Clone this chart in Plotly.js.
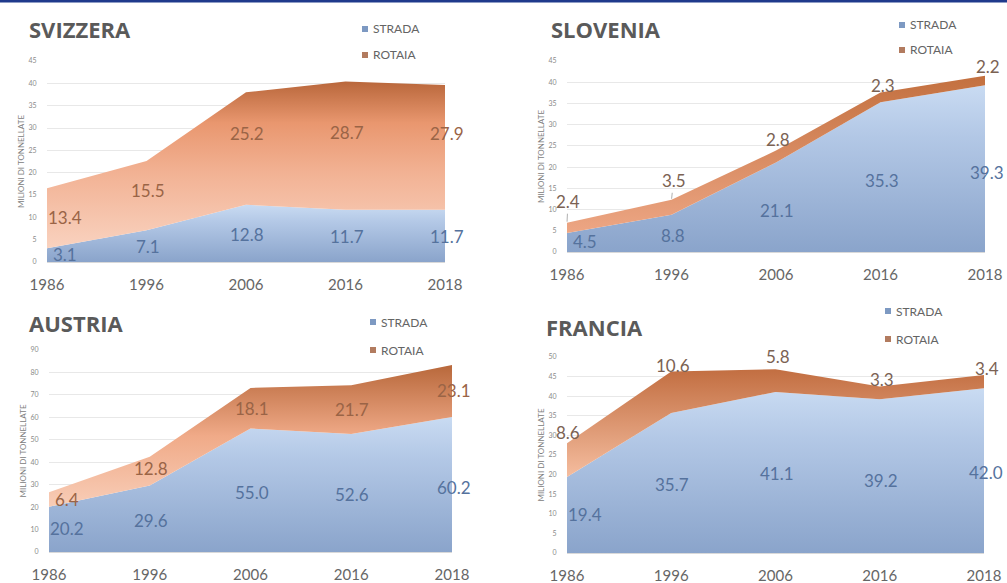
<!DOCTYPE html>
<html>
<head>
<meta charset="utf-8">
<script src="https://cdn.plot.ly/plotly-3.0.1.min.js"></script>
<style>html,body{margin:0;padding:0;background:#fff;}#chart{width:1007px;height:583px;}</style>
</head>
<body>
<div id="chart"></div>
<script>
// ---------------- DATA ----------------
const years = ['1986', '1996', '2006', '2016', '2018'];
const seriesNames = ['STRADA', 'ROTAIA'];
const countryNames = ['SVIZZERA', 'SLOVENIA', 'AUSTRIA', 'FRANCIA'];
const yAxisTitle = 'MILIONI DI TONNELLATE';

const svizzeraStrada = [3.1, 7.1, 12.8, 11.7, 11.7];
const svizzeraRotaia = [13.4, 15.5, 25.2, 28.7, 27.9];
const sloveniaStrada = [4.5, 8.8, 21.1, 35.3, 39.3];
const sloveniaRotaia = [2.4, 3.5, 2.8, 2.3, 2.2];
const austriaStrada = [20.2, 29.6, 55.0, 52.6, 60.2];
const austriaRotaia = [6.4, 12.8, 18.1, 21.7, 23.1];
const franciaStrada = [19.4, 35.7, 41.1, 39.2, 42.0];
const franciaRotaia = [8.6, 10.6, 5.8, 3.3, 3.4];

const yMax = [45, 45, 90, 50];
const yStep = [5, 5, 10, 5];

// ---------------- LAYOUT / STYLE ----------------
const W = 1007, H = 583;
const panels = [
  { strada: svizzeraStrada, rotaia: svizzeraRotaia,
    px: [47, 445], py: [61, 262], title: [27, 29], legend: [362, 29, 55],
    rotMode: 'mid', sShift: [1, 0, -1, -1, -1], rShift: [1, 5, 15, 13, 14],
    rotScale: [[0, '#f9d2bf'], [0.45, '#f2b294'], [0.75, '#e9976f'], [1, '#b9673b']] },
  { strada: sloveniaStrada, rotaia: sloveniaRotaia,
    px: [567, 985], py: [61, 252], title: [549, 29], legend: [899, 25, 50],
    rotMode: 'above', sShift: [1, -2, -3, -3, -4], rShift: [21, 19, 11, 7, 9],
    rotScale: [[0, '#eda684'], [1, '#c3703f']] },
  { strada: austriaStrada, rotaia: austriaRotaia,
    px: [49, 452], py: [350, 552], title: [27, 323], legend: [370, 322, 350],
    rotMode: 'mid', sShift: [1, -2, -2, -2, -3], rShift: [0, 3, 0, 0, 0],
    rotScale: [[0, '#f8cdb7'], [0.5, '#f0aa88'], [1, '#b8683b']] },
  { strada: franciaStrada, rotaia: franciaRotaia,
    px: [567, 984], py: [357, 553], title: [544, 327], legend: [885, 311, 339],
    rotMode: 'above', sShift: [0, -1, -1, -4, -2], rShift: [11, 6, 13, 7, 7],
    rotScale: [[0, '#f5bd9f'], [1, '#c26e41']] }
];

const stradaScale = [[0, '#8aa4cb'], [0.7, '#b3c8e6'], [1, '#c9dbf2']];
const labelFont = 'Lato, "Open Sans", sans-serif';
const stradaLabelColor = '#55729d';
const rotaiaInColor = '#9a6446';
const rotaiaOutColor = '#7b6253';

const traces = [];
const annotations = [];
const shapes = [];
const layout = {
  width: W, height: H,
  margin: { l: 0, r: 0, t: 0, b: 0 },
  paper_bgcolor: '#ffffff',
  plot_bgcolor: 'rgba(0,0,0,0)',
  showlegend: false,
  hovermode: false,
  font: { family: labelFont, color: '#595959' }
};

panels.forEach((p, i) => {
  const n = i + 1;
  const xa = 'x' + (n === 1 ? '' : n);
  const ya = 'y' + (n === 1 ? '' : n);
  const xKey = 'xaxis' + (n === 1 ? '' : n);
  const yKey = 'yaxis' + (n === 1 ? '' : n);
  const totals = p.strada.map((v, k) => v + p.rotaia[k]);

  traces.push({
    type: 'scatter', x: years, y: p.strada, name: seriesNames[0],
    xaxis: xa, yaxis: ya, stackgroup: 'g' + n, mode: 'none',
    fillgradient: { type: 'vertical', start: 0, stop: Math.max(...p.strada), colorscale: stradaScale },
    hoverinfo: 'skip'
  });
  traces.push({
    type: 'scatter', x: years, y: p.rotaia, name: seriesNames[1],
    xaxis: xa, yaxis: ya, stackgroup: 'g' + n, mode: 'none',
    fillgradient: { type: 'vertical', start: Math.min(...p.strada), stop: Math.max(...totals), colorscale: p.rotScale },
    hoverinfo: 'skip'
  });

  layout[xKey] = {
    domain: [p.px[0] / W, p.px[1] / W],
    anchor: ya, type: 'category', range: [0, years.length - 1],
    showgrid: false, zeroline: false,
    showline: true, linecolor: '#d9d9d9', linewidth: 1,
    ticks: 'outside', ticklen: 9, tickcolor: 'rgba(0,0,0,0)',
    tickfont: { family: labelFont, size: 15, color: '#666666' },
    fixedrange: true
  };
  layout[yKey] = {
    domain: [1 - p.py[1] / H, 1 - p.py[0] / H],
    anchor: xa, range: [0, yMax[i]], dtick: yStep[i], tick0: 0,
    showgrid: true, gridcolor: '#e8e8e8', gridwidth: 1,
    zeroline: false, showline: false,
    ticks: 'outside', ticklen: 8, tickcolor: 'rgba(0,0,0,0)',
    tickfont: { family: labelFont, size: 7, color: '#8a8a8a' },
    title: { text: yAxisTitle, font: { family: labelFont, size: 8, color: '#808080' }, standoff: 2 },
    fixedrange: true
  };

  // country title
  annotations.push({
    xref: 'paper', yref: 'paper', x: p.title[0] / W, y: 1 - p.title[1] / H,
    xanchor: 'left', yanchor: 'middle', showarrow: false,
    text: '<b>' + countryNames[i] + '</b>',
    font: { family: '"Open Sans", sans-serif', size: 22, color: '#5a5a5a' }
  });

  // legend (swatch + text)
  const legendColors = ['#7d99c2', '#b27b5f'];
  [p.legend[1], p.legend[2]].forEach((ly, k) => {
    shapes.push({
      type: 'rect', xref: 'paper', yref: 'paper',
      x0: p.legend[0] / W, x1: (p.legend[0] + 6) / W,
      y0: 1 - (ly + 3) / H, y1: 1 - (ly - 3) / H,
      fillcolor: legendColors[k], line: { width: 0 }
    });
    annotations.push({
      xref: 'paper', yref: 'paper', x: (p.legend[0] + 9) / W, y: 1 - ly / H,
      xanchor: 'left', yanchor: 'middle', showarrow: false,
      text: seriesNames[k],
      font: { family: labelFont, size: 12, color: '#646464' }
    });
  });

  // data labels (x given as category index on the category axis)
  years.forEach((yr, k) => {
    const xs = k === 0 ? 18 : (k === years.length - 1 ? 2 : 1);
    annotations.push({
      xref: xa, yref: ya, x: k, y: p.strada[k] / 2,
      xshift: xs, yshift: p.sShift[k], showarrow: false,
      text: p.strada[k].toFixed(1),
      font: { family: labelFont, size: 17, color: stradaLabelColor }
    });
    if (p.rotMode === 'mid') {
      annotations.push({
        xref: xa, yref: ya, x: k, y: p.strada[k] + p.rotaia[k] / 2,
        xshift: xs, yshift: p.rShift[k], showarrow: false,
        text: p.rotaia[k].toFixed(1),
        font: { family: labelFont, size: 17, color: rotaiaInColor }
      });
    } else {
      const xs2 = k === 0 ? 1 : (k === years.length - 1 ? 3 : 2);
      const lead = p.rShift[k] >= 15;
      annotations.push({
        xref: xa, yref: ya, x: k, y: totals[k],
        xshift: lead ? 0 : xs2, yshift: lead ? 0 : p.rShift[k],
        showarrow: lead, ax: xs2, ay: -p.rShift[k], arrowhead: 0, arrowwidth: 0.8,
        arrowcolor: '#9a9a9a', standoff: 1,
        text: p.rotaia[k].toFixed(1),
        font: { family: labelFont, size: 17, color: rotaiaOutColor }
      });
    }
  });
});

// top border band
shapes.push({
  type: 'rect', xref: 'paper', yref: 'paper', x0: 0, x1: 1, y0: 1 - 2.5 / H, y1: 1,
  fillcolor: '#1f3a8c', line: { width: 0 }
});

layout.annotations = annotations;
layout.shapes = shapes;

Plotly.newPlot('chart', traces, layout, { staticPlot: true, displayModeBar: false });
</script>
</body>
</html>
